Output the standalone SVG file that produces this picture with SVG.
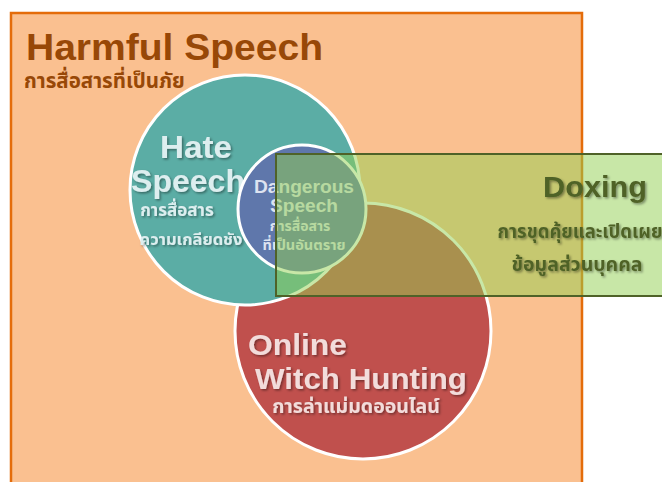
<svg xmlns="http://www.w3.org/2000/svg" width="662" height="482" viewBox="0 0 662 482">
<defs>
<filter id="sh" x="-10%" y="-20%" width="130%" height="150%">
<feDropShadow dx="1.5" dy="1.5" stdDeviation="1" flood-color="#000" flood-opacity="0.4"/>
</filter>
</defs>
<style>
text{font-family:"Liberation Sans","Noto Sans Thai","Noto Sans",sans-serif;font-weight:bold;text-anchor:middle}
.circ{stroke:#fff;stroke-width:3}
</style>
<rect width="662" height="482" fill="#fff"/>
<g id="harmful">
<rect x="11" y="13" width="571" height="480" fill="#FAC090" stroke="#E46C0A" stroke-width="2.5"/>
<text x="26" y="60" font-size="36" fill="#984807" style="text-anchor:start" textLength="297" lengthAdjust="spacingAndGlyphs">Harmful Speech</text>
<text x="24" y="88" font-size="20.5" fill="#984807" style="text-anchor:start">การสื่อสารที่เป็นภัย</text>
</g>
<g id="witch">
<circle class="circ" cx="363" cy="331" r="128" fill="#C0504D"/>
</g>
<g id="hate">
<circle class="circ" cx="245" cy="190" r="115" fill="#5BADA5"/>
<g filter="url(#sh)" fill="#DDEEEF">
<text x="196" y="158" font-size="32" textLength="72" lengthAdjust="spacingAndGlyphs">Hate</text>
<text x="188" y="192" font-size="32" textLength="114" lengthAdjust="spacingAndGlyphs">Speech</text>
<text x="177" y="216" font-size="17">การสื่อสาร</text>
<text x="191" y="245" font-size="16.5">ความเกลียดชัง</text>
</g>
</g>
<g id="dangerous">
<circle class="circ" cx="302" cy="209" r="64" fill="#5F77AB"/>
<g fill="#DDE3F0">
<text x="304" y="193" font-size="18" textLength="100" lengthAdjust="spacingAndGlyphs">Dangerous</text>
<text x="304" y="212" font-size="18" textLength="68" lengthAdjust="spacingAndGlyphs">Speech</text>
<text x="300" y="231" font-size="14">การสื่อสาร</text>
<text x="304" y="250" font-size="14.5">ที่เป็นอันตราย</text>
</g>
</g>
<g id="witch-text" filter="url(#sh)" fill="#F2DCDB">
<text x="297.5" y="355" font-size="30" textLength="99" lengthAdjust="spacingAndGlyphs">Online</text>
<text x="361" y="389" font-size="30" textLength="212" lengthAdjust="spacingAndGlyphs">Witch Hunting</text>
<text x="356" y="413" font-size="19.5">การล่าแม่มดออนไลน์</text>
</g>
<g id="doxing">
<rect x="276" y="154" width="400" height="142" fill="#92D050" fill-opacity="0.5" stroke="#4F6228" stroke-width="2"/>
<g filter="url(#sh)" fill="#4F6228">
<text x="595" y="197" font-size="29" textLength="104" lengthAdjust="spacingAndGlyphs">Doxing</text>
<text x="580" y="238" font-size="18.5">การขุดคุ้ยและเปิดเผย</text>
<text x="577" y="271" font-size="19.5">ข้อมูลส่วนบุคคล</text>
</g>
</g>
<g id="connectors"/>
</svg>
